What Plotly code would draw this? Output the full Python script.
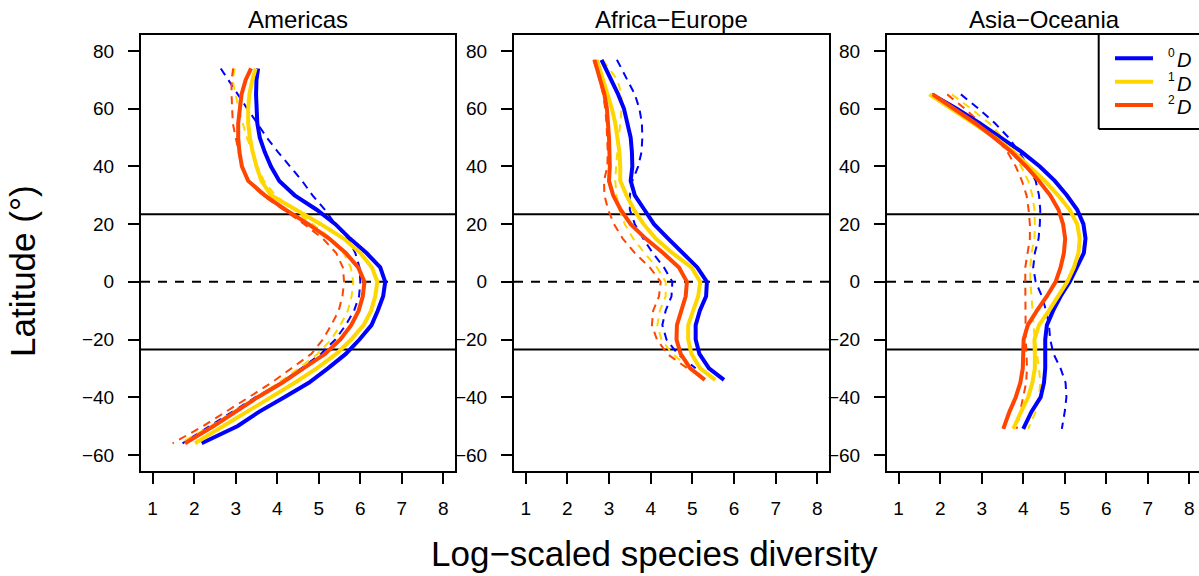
import plotly.graph_objects as go

# ---------------- data ----------------
regions = ["Americas", "Africa−Europe", "Asia−Oceania"]
orders = ["0", "1", "2"]
colors = ["#0000FF", "#FFD700", "#FF4500"]
TROPIC = 23.44
x_ticks = [1, 2, 3, 4, 5, 6, 7, 8]
y_ticks = [-60, -40, -20, 0, 20, 40, 60, 80]

# Americas
lat_am = [74, 70, 65, 60, 55, 50, 45, 40, 35, 30, 25, 20, 15, 10, 5, 0,
          -5, -10, -15, -20, -25, -30, -35, -40, -45, -50, -56]
am_solid_0 = [3.54, 3.50, 3.49, 3.50, 3.52, 3.58, 3.70, 3.85, 4.05, 4.42, 4.95, 5.40, 5.75, 6.15, 6.48, 6.60,
              6.55, 6.42, 6.27, 5.98, 5.65, 5.22, 4.76, 4.17, 3.57, 3.05, 2.18]
am_solid_1 = [3.48, 3.40, 3.33, 3.30, 3.30, 3.34, 3.41, 3.50, 3.62, 3.85, 4.45, 5.05, 5.60, 6.00, 6.28, 6.41,
              6.36, 6.26, 6.08, 5.78, 5.42, 4.95, 4.42, 3.85, 3.28, 2.75, 2.02]
am_solid_2 = [3.37, 3.24, 3.14, 3.09, 3.06, 3.06, 3.09, 3.15, 3.30, 3.70, 4.20, 4.75, 5.25, 5.65, 5.95, 6.10,
              6.06, 5.96, 5.78, 5.52, 5.15, 4.63, 4.12, 3.53, 3.00, 2.47, 1.78]
am_dash_0 = [2.64, 2.82, 3.05, 3.28, 3.52, 3.75, 4.02, 4.30, 4.60, 4.85, 5.15, 5.40, 5.70, 5.88, 5.98, 6.00,
             5.97, 5.85, 5.65, 5.40, 5.05, 4.58, 4.08, 3.48, 2.93, 2.40, 1.72]
am_dash_1 = [2.98, 2.92, 3.00, 3.07, 3.17, 3.27, 3.40, 3.52, 3.68, 3.95, 4.40, 4.85, 5.30, 5.60, 5.77, 5.83,
             5.79, 5.70, 5.52, 5.30, 4.97, 4.52, 4.03, 3.50, 2.95, 2.40, 1.66]
am_dash_2 = [2.94, 2.90, 2.90, 2.91, 2.93, 3.00, 3.08, 3.15, 3.30, 3.65, 4.15, 4.65, 5.10, 5.42, 5.58, 5.61,
             5.57, 5.48, 5.30, 5.10, 4.82, 4.35, 3.86, 3.32, 2.78, 2.22, 1.48]

# Africa-Europe
lat_af = [77, 70, 65, 60, 55, 50, 45, 40, 35, 30, 25, 20, 15, 10, 5, 0,
          -5, -10, -15, -20, -25, -30, -34]
af_solid_0 = [2.82, 3.06, 3.22, 3.36, 3.45, 3.52, 3.55, 3.56, 3.52, 3.62, 3.85, 4.08, 4.42, 4.78, 5.12, 5.35,
              5.33, 5.18, 5.08, 5.08, 5.17, 5.40, 5.76]
af_solid_1 = [2.71, 2.86, 2.98, 3.07, 3.15, 3.21, 3.25, 3.27, 3.27, 3.42, 3.60, 3.83, 4.12, 4.52, 4.98, 5.19,
              5.14, 5.02, 4.90, 4.90, 4.98, 5.19, 5.55]
af_solid_2 = [2.65, 2.80, 2.89, 2.95, 2.98, 3.00, 3.01, 3.02, 3.00, 3.10, 3.28, 3.52, 3.88, 4.30, 4.68, 4.87,
              4.84, 4.74, 4.63, 4.62, 4.72, 4.95, 5.30]
af_dash_0 = [3.19, 3.45, 3.62, 3.73, 3.79, 3.80, 3.78, 3.70, 3.56, 3.50, 3.50, 3.62, 3.82, 4.05, 4.32, 4.52,
             4.50, 4.36, 4.28, 4.38, 4.65, 5.08, None]
af_dash_1 = [2.85, 3.20, 3.30, 3.30, 3.27, 3.23, 3.20, 3.17, 3.15, 3.18, 3.25, 3.38, 3.58, 3.85, 4.15, 4.36,
             4.36, 4.22, 4.16, 4.26, 4.52, 4.95, None]
af_dash_2 = [2.63, 2.78, 2.86, 2.91, 2.94, 2.96, 2.97, 2.96, 2.88, 2.89, 2.98, 3.12, 3.33, 3.62, 3.98, 4.24,
             4.20, 4.06, 4.03, 4.15, 4.40, 4.88, None]

# Asia-Oceania
lat_as = [65, 60, 55, 50, 45, 40, 35, 30, 25, 20, 15, 10, 5, 0,
          -5, -10, -15, -20, -25, -30, -35, -40, -45, -50, -51]
as_solid_0 = [1.80, 2.40, 2.95, 3.48, 3.97, 4.40, 4.76, 5.05, 5.30, 5.45, 5.50, 5.46, 5.30, 5.12,
              4.90, 4.72, 4.57, 4.53, 4.53, 4.53, 4.50, 4.42, 4.20, 4.03, 4.00]
as_solid_1 = [1.74, 2.27, 2.80, 3.32, 3.78, 4.16, 4.52, 4.84, 5.12, 5.30, 5.36, 5.33, 5.22, 5.06,
              4.85, 4.62, 4.38, 4.27, 4.28, 4.28, 4.22, 4.12, 3.95, 3.80, 3.76]
as_solid_2 = [1.82, 2.35, 2.85, 3.30, 3.72, 4.07, 4.38, 4.65, 4.85, 4.96, 5.01, 4.98, 4.90, 4.78,
              4.57, 4.33, 4.11, 4.01, 4.00, 3.99, 3.93, 3.82, 3.67, 3.55, 3.52]
as_dash_0 = [2.50, 2.93, 3.32, 3.65, 3.90, 4.12, 4.30, 4.38, 4.41, 4.40, 4.37, 4.28, 4.24, 4.30,
             4.45, 4.55, 4.62, 4.65, 4.73, 4.90, 5.02, 5.04, 5.00, 4.94, 4.93]
as_dash_1 = [2.28, 2.75, 3.18, 3.50, 3.75, 3.95, 4.12, 4.22, 4.27, 4.28, 4.27, 4.20, 4.17, 4.17,
             4.20, 4.22, 4.25, 4.28, 4.33, 4.38, 4.41, 4.38, 4.30, 4.15, 4.12]
as_dash_2 = [2.17, 2.60, 2.98, 3.35, 3.62, 3.82, 3.97, 4.08, 4.13, 4.16, 4.16, 4.10, 4.05, 4.05,
             4.05, 4.05, 4.05, 4.06, 4.08, 4.09, 4.07, 4.00, 3.92, 3.85, 3.84]

panels = [
    (lat_am, [am_solid_0, am_solid_1, am_solid_2], [am_dash_0, am_dash_1, am_dash_2]),
    (lat_af, [af_solid_0, af_solid_1, af_solid_2], [af_dash_0, af_dash_1, af_dash_2]),
    (lat_as, [as_solid_0, as_solid_1, as_solid_2], [as_dash_0, as_dash_1, as_dash_2]),
]

# ---------------- layout geometry ----------------
W, H = 1199, 576
FONT = "Liberation Sans, Arial, Helvetica, sans-serif"


def px(x):
    return x / W


def py(y):
    return 1 - y / H


x_domains = [(141, 455), (514, 829), (887, 1199)]
x_ranges = [[0.72, 8.28], [0.72, 8.28], [0.72, 0.72 + 312 / 41.53]]
y_range = [-65.6, 85.6]
y_dom = [py(471), py(35)]

fig = go.Figure()

for i, (lat, solids, dashes) in enumerate(panels):
    xa = "x" if i == 0 else f"x{i+1}"
    ya = "y" if i == 0 else f"y{i+1}"
    for k in range(3):
        fig.add_trace(go.Scatter(x=dashes[k], y=lat, mode="lines", xaxis=xa, yaxis=ya,
                                 line=dict(color=colors[k], width=2, dash="8px,6px"),
                                 showlegend=False, hoverinfo="skip"))
    for k in range(3):
        fig.add_trace(go.Scatter(x=solids[k], y=lat, mode="lines", xaxis=xa, yaxis=ya,
                                 line=dict(color=colors[k], width=4),
                                 name=f"{orders[k]}D", showlegend=False))

axis_common = dict(showgrid=False, zeroline=False, showline=True, linecolor="black", linewidth=2,
                   ticks="outside", ticklen=11, tickwidth=2, tickcolor="black",
                   tickfont=dict(family=FONT, size=19, color="black"))

layout = dict(width=W, height=H, margin=dict(l=0, r=0, t=0, b=0),
              paper_bgcolor="white", plot_bgcolor="white", showlegend=False)

for i in range(3):
    xk = "xaxis" if i == 0 else f"xaxis{i+1}"
    yk = "yaxis" if i == 0 else f"yaxis{i+1}"
    ya = "y" if i == 0 else f"y{i+1}"
    xa = "x" if i == 0 else f"x{i+1}"
    layout[xk] = dict(axis_common, domain=[px(x_domains[i][0]), px(x_domains[i][1])],
                      range=x_ranges[i], tickvals=x_ticks, anchor=ya, mirror=True,
                      ticklabelstandoff=8)
    layout[yk] = dict(axis_common, domain=y_dom, range=y_range, tickvals=y_ticks,
                      anchor=xa, mirror=(i < 2), ticklabelstandoff=10)

fig.update_layout(**layout)

shapes = []
annotations = []
for i in range(3):
    xa = "x" if i == 0 else f"x{i+1}"
    ya = "y" if i == 0 else f"y{i+1}"
    for yv in (TROPIC, -TROPIC):
        shapes.append(dict(type="line", xref=f"{xa} domain", yref=ya, x0=0, x1=1, y0=yv, y1=yv,
                           line=dict(color="black", width=2), layer="below"))
    shapes.append(dict(type="line", xref=f"{xa} domain", yref=ya, x0=0, x1=1, y0=0, y1=0,
                       line=dict(color="black", width=2, dash="9px,8px"), layer="below"))
    cx = (x_domains[i][0] + (x_domains[i][0] + 314)) / 2
    annotations.append(dict(text=regions[i], xref="paper", yref="paper", x=px(cx), y=py(19),
                            xanchor="center", yanchor="middle", showarrow=False,
                            font=dict(family=FONT, size=24, color="black")))

# manual legend (box clipped at the right edge, as in the original)
lx0, ly1 = 1098.7, 129
shapes.append(dict(type="line", xref="paper", yref="paper", x0=px(lx0), x1=px(lx0), y0=py(35), y1=py(ly1),
                   line=dict(color="black", width=2)))
shapes.append(dict(type="line", xref="paper", yref="paper", x0=px(lx0), x1=1, y0=py(ly1), y1=py(ly1),
                   line=dict(color="black", width=2)))
for k, yy in enumerate([58.3, 81.7, 105]):
    shapes.append(dict(type="line", xref="paper", yref="paper", x0=px(1115), x1=px(1153), y0=py(yy), y1=py(yy),
                       line=dict(color=colors[k], width=4)))
    annotations.append(dict(text="D", xref="paper", yref="paper",
                            x=px(1193), y=py(yy + 2), xanchor="right", yanchor="middle", showarrow=False,
                            font=dict(family=FONT, size=20, color="black", style="italic")))
    annotations.append(dict(text=orders[k], xref="paper", yref="paper",
                            x=px(1177), y=py(yy - 5), xanchor="right", yanchor="middle", showarrow=False,
                            font=dict(family=FONT, size=12, color="black")))

annotations.append(dict(text="Log−scaled species diversity", xref="paper", yref="paper",
                        x=px(654), y=py(553), xanchor="center", yanchor="middle", showarrow=False,
                        font=dict(family=FONT, size=35, color="black")))
annotations.append(dict(text="Latitude (°)", xref="paper", yref="paper", textangle=-90,
                        x=px(22), y=py(271), xanchor="center", yanchor="middle", showarrow=False,
                        font=dict(family=FONT, size=35, color="black")))

fig.update_layout(shapes=shapes, annotations=annotations)
fig.write_html("out.html")
